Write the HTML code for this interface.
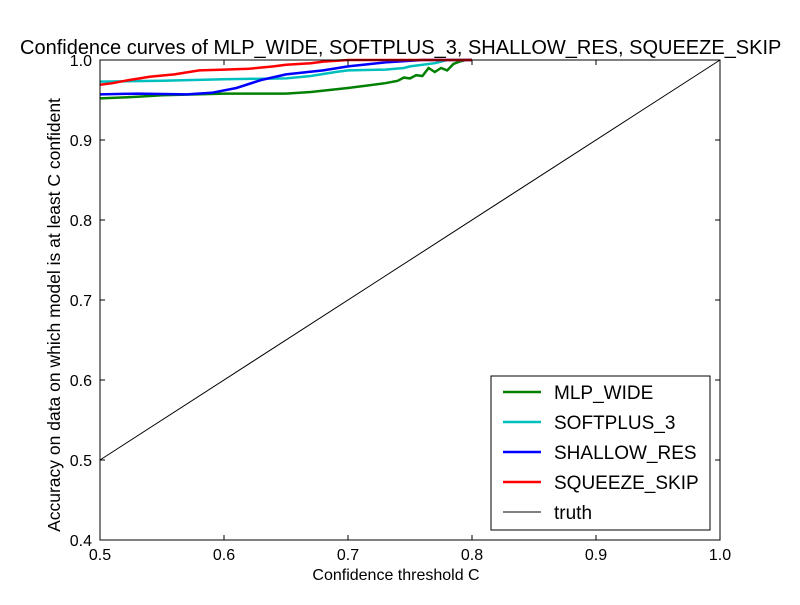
<!DOCTYPE html>
<html><head><meta charset="utf-8"><style>
body{margin:0;background:#fff;}
svg{font-family:"Liberation Sans",sans-serif;}
</style></head><body>
<svg width="800" height="600" xmlns="http://www.w3.org/2000/svg">
<rect width="800" height="600" fill="#fff"/>
<g id="plot"></g>
<text x="20" y="54" font-size="20">Confidence curves of MLP_WIDE, SOFTPLUS_3, SHALLOW_RES, SQUEEZE_SKIP</text>
<text x="396" y="580" font-size="16" text-anchor="middle">Confidence threshold C</text>
<text transform="translate(60,315) rotate(-90)" font-size="17.5" text-anchor="middle">Accuracy on data on which model is at least C confident</text>
</svg>
<script>
const xTicks=[0.5,0.6,0.7,0.8,0.9,1.0];
const yTicks=[0.4,0.5,0.6,0.7,0.8,0.9,1.0];
const seriesNames=["MLP_WIDE","SOFTPLUS_3","SHALLOW_RES","SQUEEZE_SKIP"];
const seriesColors=["#008000","#00bfbf","#0000ff","#ff0000"];
const mlpX=[0.5,0.53,0.55,0.6,0.65,0.67,0.7,0.73,0.74,0.745,0.75,0.755,0.76,0.765,0.77,0.775,0.78,0.785,0.79,0.795,0.8];
const mlpY=[0.952,0.954,0.956,0.958,0.958,0.96,0.965,0.971,0.974,0.978,0.977,0.981,0.98,0.99,0.985,0.99,0.987,0.995,0.998,1.0,1.0];
const softX=[0.5,0.55,0.6,0.65,0.67,0.69,0.7,0.73,0.745,0.75,0.77,0.78,0.8];
const softY=[0.973,0.974,0.976,0.977,0.98,0.985,0.987,0.988,0.99,0.992,0.996,1.0,1.0];
const shalX=[0.5,0.53,0.57,0.59,0.61,0.62,0.63,0.65,0.68,0.7,0.73,0.76,0.8];
const shalY=[0.957,0.958,0.957,0.959,0.965,0.97,0.975,0.982,0.987,0.992,0.997,1.0,1.0];
const sqX=[0.5,0.51,0.52,0.54,0.56,0.58,0.6,0.62,0.64,0.65,0.67,0.68,0.7,0.8];
const sqY=[0.969,0.971,0.974,0.979,0.982,0.987,0.988,0.989,0.992,0.994,0.996,0.998,1.0,1.0];
const allX=[mlpX,softX,shalX,sqX], allY=[mlpY,softY,shalY,sqY];
const truthX=[0.5,1.0], truthY=[0.5,1.0];
const L=100,R=720,T=60,B=540;
const sx=v=>L+(v-0.5)/0.5*(R-L);
const sy=v=>B-(v-0.4)/0.6*(B-T);
const NS="http://www.w3.org/2000/svg";
const g=document.getElementById('plot');
function mk(t,a,p){const e=document.createElementNS(NS,t);for(const k in a)e.setAttribute(k,a[k]);(p||g).appendChild(e);return e;}
const clip=mk('clipPath',{id:'c'});mk('rect',{x:L,y:T-2,width:R-L,height:B-T+2},clip);
const ln=(xs,ys)=>xs.map((x,i)=>(i?'L':'M')+sx(x).toFixed(1)+','+sy(ys[i]).toFixed(1)).join('');
const t=mk('path',{d:ln(truthX,truthY),stroke:'#000','stroke-width':1,fill:'none'});


allX.forEach((xs,i)=>{const p=mk('path',{d:ln(xs,allY[i]),stroke:seriesColors[i],'stroke-width':2.5,fill:'none','clip-path':'url(#c)'});

});
mk('rect',{x:L,y:T,width:R-L,height:B-T,fill:'none',stroke:'#000','stroke-width':1});
xTicks.forEach(v=>{const x=sx(v);mk('line',{x1:x,x2:x,y1:B,y2:B-5,stroke:'#000'});mk('line',{x1:x,x2:x,y1:T,y2:T+5,stroke:'#000'});
const tx=mk('text',{x:x,y:B+20,'font-size':16,'text-anchor':'middle'});tx.textContent=v.toFixed(1);

});
yTicks.forEach(v=>{const y=sy(v);mk('line',{x1:L,x2:L+5,y1:y,y2:y,stroke:'#000'});mk('line',{x1:R,x2:R-5,y1:y,y2:y,stroke:'#000'});
const tx=mk('text',{x:L-8,y:y+6,'font-size':16,'text-anchor':'end'});tx.textContent=v.toFixed(1);

});
const lg=mk('g',{});


mk('rect',{x:491,y:376,width:219,height:154,fill:'#fff',stroke:'#000'},lg);
const names=seriesNames.concat(['truth']),cols=seriesColors.concat(['#000']);
names.forEach((n,i)=>{const y=392+i*30;mk('line',{x1:503,x2:541,y1:y,y2:y,stroke:cols[i],'stroke-width':i<4?2.5:1},lg);
const tx=mk('text',{x:554,y:y+7,'font-size':19},lg);tx.textContent=n;

});
</script>
</body></html>
